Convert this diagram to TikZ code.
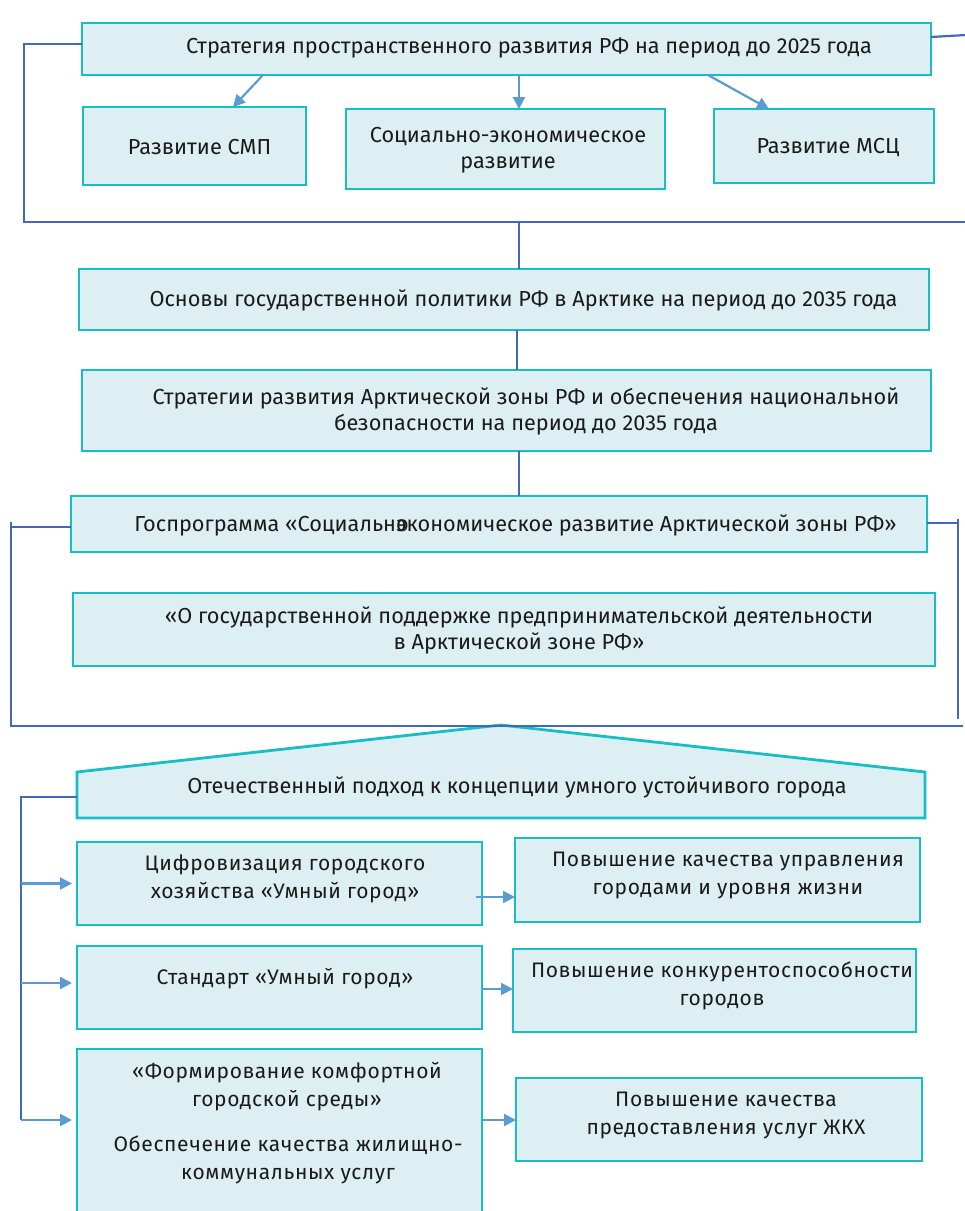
\documentclass[tikz,border=0pt]{standalone}
\usepackage{fontspec}
\setmainfont{Fira Sans}
\newfontfamily\spaced[LetterSpace=3]{Fira Sans}
\usetikzlibrary{arrows.meta}
\definecolor{boxline}{HTML}{17BEC3}
\definecolor{boxfill}{HTML}{DDEFF3}
\definecolor{brk}{HTML}{4468B9}
\definecolor{arr}{HTML}{5B9BD5}
\definecolor{txt}{HTML}{1A1A1A}
\begin{document}
\begin{tikzpicture}[x=1pt,y=-1pt,
  box/.style={draw=boxline,fill=boxfill,line width=2.8pt,inner sep=0pt,outer sep=0pt},
  lbl/.style={text=txt,font=\fontsize{21.7}{26}\selectfont,align=center,inner sep=0pt},
  lblb/.style={text=txt,font=\spaced\fontsize{21}{28}\selectfont,align=center,inner sep=0pt},
  brline/.style={draw=brk,line width=2.2pt},
  arrline/.style={draw=arr,line width=2.2pt,-{Triangle[length=12pt,width=12pt]}}]
\useasboundingbox (0,0) rectangle (965,1211);

% boxes
\node[box,minimum width=849pt,minimum height=52pt] (b1) at (506.5,49) {};
\node[box,minimum width=223pt,minimum height=78pt] (smp) at (194.5,146) {};
\node[box,minimum width=319pt,minimum height=80pt] (soc) at (505.5,149) {};
\node[box,minimum width=220pt,minimum height=74pt] (msc) at (824,146) {};
\node[box,minimum width=850pt,minimum height=61pt] (osn) at (504,299.5) {};
\node[box,minimum width=849pt,minimum height=81pt] (str) at (506.5,410.5) {};
\node[box,minimum width=856pt,minimum height=56pt] (gos) at (499,524) {};
\node[box,minimum width=862pt,minimum height=73pt] (ogp) at (504,629.5) {};
\node[minimum width=848pt,minimum height=46pt,inner sep=0pt,outer sep=0pt] (otech) at (501,795) {};
\draw[box] (otech.south west) -- (otech.north west) -- ([yshift=47pt]otech.north) -- (otech.north east) -- (otech.south east) -- cycle;
\node[box,minimum width=405pt,minimum height=83pt] (cif) at (279.5,883.5) {};
\node[box,minimum width=405pt,minimum height=84pt] (pk1) at (717.5,880) {};
\node[box,minimum width=405pt,minimum height=83pt] (std) at (279.5,987.5) {};
\node[box,minimum width=403pt,minimum height=83pt] (pk2) at (714.5,990.5) {};
\node[box,minimum width=405pt,minimum height=167pt] (form) at (279.5,1132.5) {};
\node[box,minimum width=406pt,minimum height=83pt] (pk3) at (719,1119.5) {};

% texts
\node[lbl] (t1) at (529,48) {Стратегия пространственного развития РФ на период до 2025 года};
\node[lbl] (tsmp) at (199.5,147) {Развитие СМП};
\node[lbl] (tsoc) at (508,150) {Социально-экономическое\\развитие};
\node[lbl] (tmsc) at (828,148) {Развитие МСЦ};
\node[lbl] (tosn) at (523.5,300) {Основы государственной политики РФ в Арктике на период до 2035 года};
\node[lbl] (tstr) at (526,411) {Стратегии развития Арктической зоны РФ и обеспечения национальной\\безопасности на период до 2035 года};
\node[lbl] (tgos) at (515.5,525) {Госпрограмма «Социальн\rlap{о}экономическое развитие Арктической зоны РФ»};
\node[lbl] (togp) at (519,630) {«О государственной поддержке предпринимательской деятельности\\в Арктической зоне РФ»};
\node[lbl] (totech) at (517,787) {Отечественный подход к концепции умного устойчивого города};
\node[lblb] (tcif) at (285,879) {Цифровизация городского\\хозяйства «Умный город»};
\node[lblb] (tpk1) at (728,875) {Повышение качества управления\\городами и уровня жизни};
\node[lblb] (tstd) at (285,979) {Стандарт «Умный город»};
\node[lblb] (tpk2) at (722,986) {Повышение конкурентоспособности\\городов};
\node[lblb] (tform1) at (287,1086.5) {«Формирование комфортной\\городской среды»};
\node[lblb] (tform2) at (288,1159.5) {Обеспечение качества жилищно-\\коммунальных услуг};
\node[lblb] (tpk3) at (726,1115) {Повышение качества\\предоставления услуг ЖКХ};

% top arrows
\draw[arrline] ([xshift=-243.5pt]b1.south) -- ([xshift=38.5pt]smp.north);
\draw[arrline] ([xshift=12.5pt]b1.south) -- ([xshift=13.5pt]soc.north);
\draw[arrline] ([xshift=201.5pt]b1.south) -- ([xshift=-55pt]msc.north);

% top bracket
\coordinate (c1) at (24,44);
\coordinate (c2) at (24,222);
\coordinate (c3) at (966,222);
\coordinate (c4) at (966,35);
\coordinate (c5) at (519,222);
\draw[brline] ([yshift=5pt]b1.west) -- (c1) -- (c2) -- (c3);
\draw[brline] ([yshift=12pt]b1.east) -- (c4);
\draw[brline] (c5) -- ([xshift=15pt]osn.north);
\draw[brline] ([xshift=13pt]osn.south) -- ([xshift=10.5pt]str.north);
\draw[brline] ([xshift=12.5pt]str.south) -- ([xshift=20pt]gos.north);

% middle bracket
\coordinate (d1) at (11,527);
\coordinate (d0) at (11,522);
\coordinate (d2) at (11,726);
\coordinate (d3) at (963,726);
\coordinate (d4) at (958,523);
\coordinate (d6) at (958,519);
\coordinate (d5) at (958,719);
\draw[brline] ([yshift=-3pt]gos.west) -- (d1);
\draw[brline] (d0) -- (d2) -- (d3);
\draw[brline] ([yshift=1pt]gos.east) -- (d4);
\draw[brline] (d6) -- (d5);

% lower bracket
\coordinate (e1) at (21,797);
\coordinate (e2) at (21,1120);
\draw[brline] ([yshift=-2pt]otech.west) -- (e1) -- (e2);
\coordinate (f2) at ([yshift=4.5pt]std.west);
\coordinate (f3) at ([yshift=12.5pt]form.west);
\draw[arrline] (e1 |- cif.west) -- ([xshift=-5pt]cif.west);
\draw[arrline] (e1 |- f2) -- ([xshift=-5pt]f2);
\draw[arrline] (e2) -- ([xshift=-5pt]f3);

% right arrows
\coordinate (g1) at ([xshift=-6pt,yshift=-13.5pt]cif.east);
\coordinate (g2) at ([yshift=-1.5pt]std.east);
\coordinate (g3) at ([yshift=12.5pt]form.east);
\draw[arrline] (g1) -- (g1 -| pk1.west);
\draw[arrline] (g2) -- (g2 -| pk2.west);
\draw[arrline] (g3) -- (g3 -| pk3.west);
\end{tikzpicture}
\end{document}
